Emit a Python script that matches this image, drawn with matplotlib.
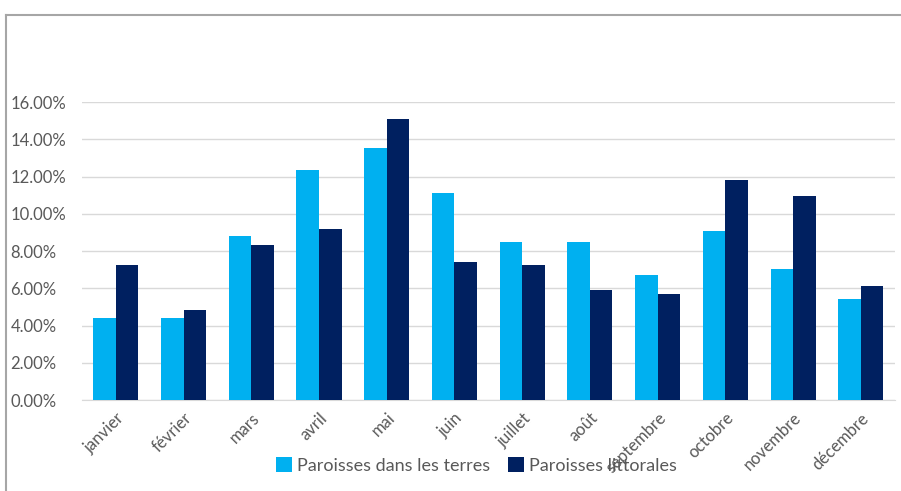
import numpy as np
import matplotlib
matplotlib.use("Agg")
import matplotlib.pyplot as plt
from matplotlib.ticker import FuncFormatter
from matplotlib.lines import Line2D

months = ["janvier", "février", "mars", "avril", "mai", "juin", "juillet",
          "août", "septembre", "octobre", "novembre", "décembre"]
terres = [4.42, 4.42, 8.83, 12.33, 13.55, 11.13, 8.51, 8.51, 6.70, 9.10, 7.06, 5.41]
littorales = [7.26, 4.84, 8.33, 9.19, 15.12, 7.44, 7.26, 5.91, 5.70, 11.84, 10.97, 6.15]
series_names = ["Paroisses dans les terres", "Paroisses littorales"]

light = "#00B0F0"
dark = "#002060"
txt = "#595959"

plt.rcParams["font.family"] = ["Lato", "DejaVu Sans"]
fs = 12

fig = plt.figure(figsize=(9.01, 4.91), dpi=100)
ax = fig.add_axes([0.091, 0.185, 0.902, 0.607])

x = np.arange(len(months))
w = 0.333
ax.bar(x - w / 2, terres, w, color=light, label=series_names[0], zorder=3)
ax.bar(x + w / 2, littorales, w, color=dark, label=series_names[1], zorder=3)

ax.set_xlim(-0.5, len(months) - 0.5)
ax.set_ylim(0, 16)
ax.set_yticks(np.arange(0, 17, 2))
ax.yaxis.set_major_formatter(FuncFormatter(lambda v, p: f"{v:.2f}%"))
ax.grid(axis="y", color="#d9d9d9", linewidth=1, zorder=0)
for s in ["top", "right", "left"]:
    ax.spines[s].set_visible(False)
ax.spines["bottom"].set_color("#d9d9d9")
ax.tick_params(axis="both", length=0, colors=txt, labelsize=fs)
for lbl in ax.get_yticklabels():
    lbl.set_horizontalalignment("left")
    lbl.set_x(-0.082)

ax.set_xticks(x)
ax.set_xticklabels(months, rotation=45, ha="right", rotation_mode="anchor")
ax.tick_params(axis="x", pad=7)

fig.legend(loc="center", bbox_to_anchor=(0.529, 0.052), ncol=2, frameon=False,
           fontsize=13, labelcolor=txt, handlelength=0.85, handleheight=0.85,
           handletextpad=0.3, columnspacing=1.0, borderpad=0)

# outer chart border (cropped at right and bottom)
fig.add_artist(Line2D([0.0072, 1.0], [0.970, 0.970], transform=fig.transFigure,
                      color="#a6a6a6", linewidth=1.5))
fig.add_artist(Line2D([0.0072, 0.0072], [0.0, 0.970], transform=fig.transFigure,
                      color="#a6a6a6", linewidth=1.5))

fig.savefig("out.png", dpi=100)
